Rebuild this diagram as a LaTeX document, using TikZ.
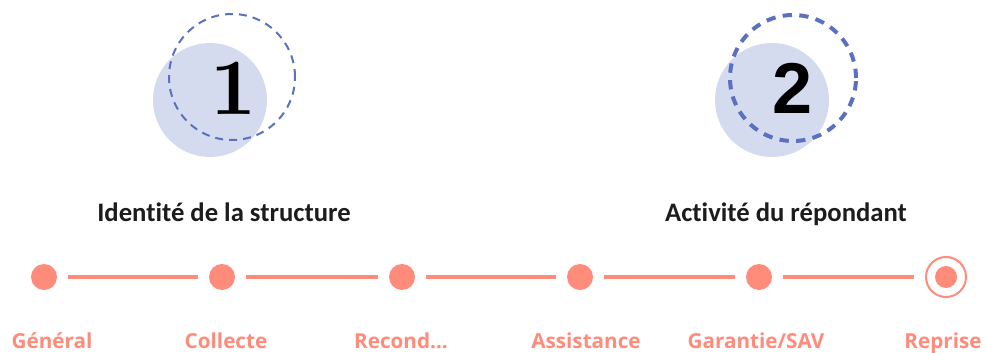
\documentclass[tikz,border=0pt]{standalone}
\usepackage{fontspec}
\setmainfont{Carlito}[RawFeature=-liga]
\newfontfamily\labfont{Open Sans}
\newfontfamily\numsans{Liberation Sans}
\newfontfamily\numserif{lmroman10-bold.otf}
\definecolor{lav}{HTML}{D5DBEE}
\definecolor{dashblue}{HTML}{5A70C0}
\definecolor{salmon}{HTML}{FF8B7B}
\definecolor{darktxt}{HTML}{1C1C1C}
\begin{document}
\begin{tikzpicture}[x=0.75pt,y=-0.75pt,
  bubble/.style={circle,fill=lav,minimum size=114*0.75pt,inner sep=0pt},
  ring/.style={circle,draw=dashblue,minimum size=126*0.75pt,inner sep=0pt},
  title/.style={font=\fontsize{20}{24}\selectfont\bfseries,text=darktxt,anchor=base},
  stepdot/.style={circle,fill=salmon,minimum size=26*0.75pt,inner sep=0pt},
  steplab/.style={font=\labfont\fontsize{15.5}{18}\selectfont\bfseries,text=salmon,anchor=base},
  link/.style={draw=salmon,line width=2.4pt,shorten <=11*0.75pt,shorten >=11*0.75pt}]
\useasboundingbox (0,0) rectangle (986,353);
% step 1
\node[bubble] (b1) at (210,100) {};
\node[ring,line width=1.5pt,dash pattern=on 6pt off 4.5pt] (r1) at (232,77) {};
\node[font=\numserif\fontsize{60}{62}\selectfont,text=black] (n1) at (233,88) {1};
\node[title] (t1) at (224,221) {Identité de la structure};
% step 2
\node[bubble] (b2) at (772,100) {};
\node[ring,line width=3pt,dash pattern=on 7pt off 5.5pt] (r2) at (793,78) {};
\node[font=\numsans\fontsize{54}{56}\selectfont\bfseries,text=black] (n2) at (793,88) {2};
\node[title] (t2) at (786,221) {Activité du répondant};
% timeline
\node[stepdot] (d1) at (44,277) {};
\node[stepdot] (d2) at (222,277) {};
\node[stepdot] (d3) at (402,277) {};
\node[stepdot] (d4) at (580,277) {};
\node[stepdot] (d5) at (759,277) {};
\node[circle,draw=salmon,line width=1.5pt,minimum size=40*0.75pt,inner sep=0pt] (d6) at (946,277) {};
\node[circle,fill=salmon,minimum size=22*0.75pt,inner sep=0pt] (d6c) at (946,277) {};
\draw[link] (d1) -- (d2);
\draw[link] (d2) -- (d3);
\draw[link] (d3) -- (d4);
\draw[link] (d4) -- (d5);
\draw[link] (d5) -- (d6);
\node[steplab] (l1) at (52,348) {Général};
\node[steplab] (l2) at (226,348) {Collecte};
\node[steplab] (l3) at (401,348) {Recond...};
\node[steplab] (l4) at (586,348) {Assistance};
\node[steplab] (l5) at (756,348) {Garantie/SAV};
\node[steplab] (l6) at (943,348) {Reprise};
\end{tikzpicture}
\end{document}
